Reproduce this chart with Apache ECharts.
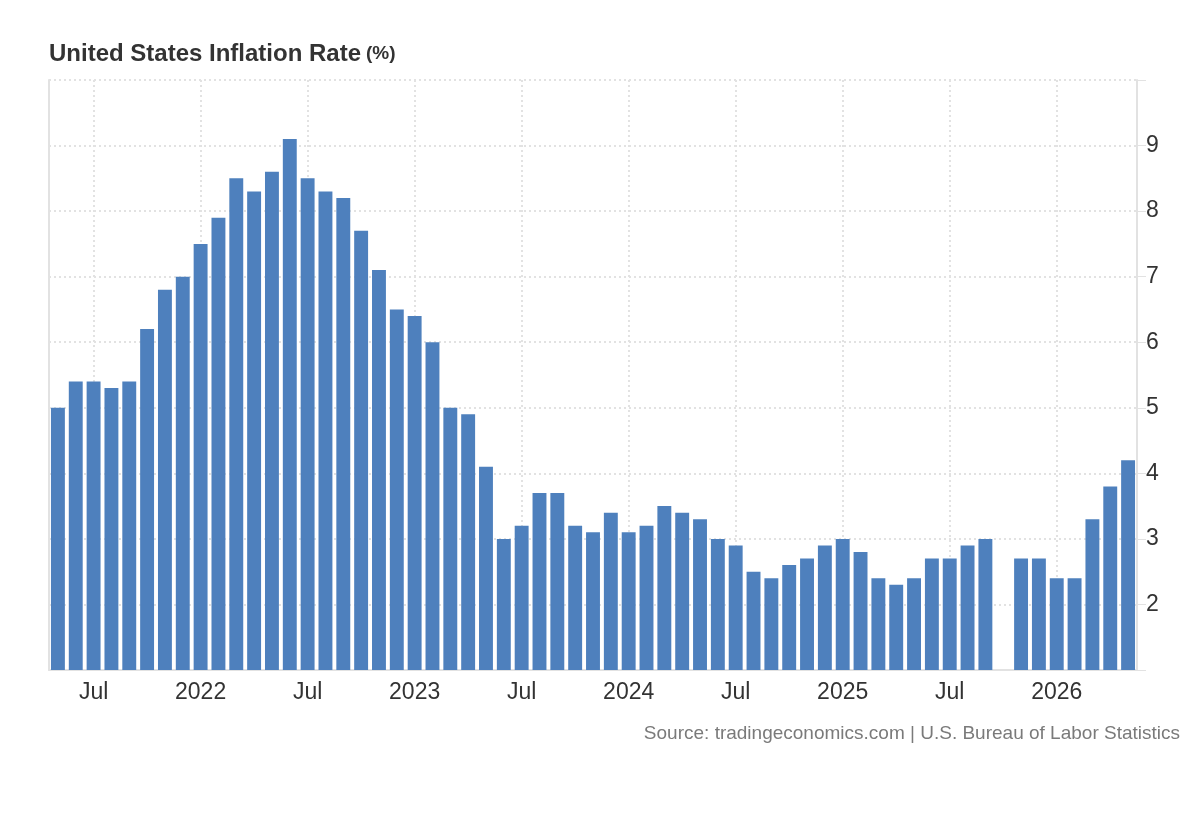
<html>
<head>
    <meta charset="utf-8">
    <script src="https://cdn.jsdelivr.net/npm/echarts@6/dist/echarts.min.js"></script>
    <style>
        html, body { margin: 0; padding: 0; background: #fff; }
    </style>
</head>
<body>
<div id="main" style="width: 1200px;height:820px;"></div>
</body>
<script type="text/javascript">
    // monthly categories, May 2021 .. May 2026
    var months = [
        'May 2021', 'Jun 2021', 'Jul 2021', 'Aug 2021', 'Sep 2021', 'Oct 2021', 'Nov 2021', 'Dec 2021',
        'Jan 2022', 'Feb 2022', 'Mar 2022', 'Apr 2022', 'May 2022', 'Jun 2022', 'Jul 2022', 'Aug 2022',
        'Sep 2022', 'Oct 2022', 'Nov 2022', 'Dec 2022',
        'Jan 2023', 'Feb 2023', 'Mar 2023', 'Apr 2023', 'May 2023', 'Jun 2023', 'Jul 2023', 'Aug 2023',
        'Sep 2023', 'Oct 2023', 'Nov 2023', 'Dec 2023',
        'Jan 2024', 'Feb 2024', 'Mar 2024', 'Apr 2024', 'May 2024', 'Jun 2024', 'Jul 2024', 'Aug 2024',
        'Sep 2024', 'Oct 2024', 'Nov 2024', 'Dec 2024',
        'Jan 2025', 'Feb 2025', 'Mar 2025', 'Apr 2025', 'May 2025', 'Jun 2025', 'Jul 2025', 'Aug 2025',
        'Sep 2025', 'Oct 2025', 'Nov 2025', 'Dec 2025',
        'Jan 2026', 'Feb 2026', 'Mar 2026', 'Apr 2026', 'May 2026'
    ];
    // inflation rate (%), null = no release
    var rate = [
        5.0, 5.4, 5.4, 5.3, 5.4, 6.2, 6.8, 7.0,
        7.5, 7.9, 8.5, 8.3, 8.6, 9.1, 8.5, 8.3,
        8.2, 7.7, 7.1, 6.5,
        6.4, 6.0, 5.0, 4.9, 4.1, 3.0, 3.2, 3.7,
        3.7, 3.2, 3.1, 3.4,
        3.1, 3.2, 3.5, 3.4, 3.3, 3.0, 2.9, 2.5,
        2.4, 2.6, 2.7, 2.9,
        3.0, 2.8, 2.4, 2.3, 2.4, 2.7, 2.7, 2.9,
        3.0, null, 2.7, 2.7,
        2.4, 2.4, 3.3, 3.8, 4.2
    ];
    var yTicks = [2, 3, 4, 5, 6, 7, 8, 9];

    var fontName = '"Liberation Sans", Arial, sans-serif';
    var gridColor = '#e2e2e2';

    function isMarked(idx) {
        var m = months[idx].split(' ')[0];
        return m === 'Jan' || m === 'Jul';
    }

    var myChart = echarts.init(document.getElementById('main'));

    var option = {
        animation: false,
        title: [{
            left: 44,
            top: 37,
            text: '{a|United States Inflation Rate} {b|(%)}',
            textStyle: {
                rich: {
                    a: { fontFamily: fontName, fontSize: 24, fontWeight: 'bold', color: '#333' },
                    b: { fontFamily: fontName, fontSize: 19, fontWeight: 'bold', color: '#333' }
                }
            }
        }, {
            right: 15,
            top: 719,
            text: 'Source: tradingeconomics.com | U.S. Bureau of Labor Statistics',
            textStyle: { fontFamily: fontName, fontSize: 19, fontWeight: 'normal', color: '#7a7a7a' }
        }],
        grid: {
            left: 49,
            right: 63,
            top: 80,
            bottom: 150,
            containLabel: false
        },
        xAxis: {
            type: 'category',
            data: months,
            axisLine: { lineStyle: { color: gridColor, width: 2 } },
            axisTick: { show: false },
            axisLabel: {
                interval: function (idx) { return isMarked(idx); },
                formatter: function (value) {
                    var p = value.split(' ');
                    return p[0] === 'Jan' ? p[1] : p[0];
                },
                fontFamily: fontName,
                fontSize: 23,
                color: '#333',
                margin: 11
            },
            splitLine: {
                show: true,
                alignWithLabel: true,
                interval: function (idx) { return isMarked(idx); },
                lineStyle: { color: gridColor, width: 2, type: [2, 3] }
            }
        },
        yAxis: [{
            type: 'value',
            position: 'right',
            min: 1,
            max: 10,
            interval: 1,
            axisLine: { show: true, lineStyle: { color: gridColor, width: 2 } },
            axisTick: { show: true, length: 9, lineStyle: { color: gridColor, width: 1 } },
            axisLabel: {
                formatter: function (v) { return yTicks.indexOf(v) >= 0 ? String(v) : ''; },
                fontFamily: fontName,
                fontSize: 23,
                color: '#333',
                margin: 9
            },
            splitLine: { show: true, lineStyle: { color: gridColor, width: 2, type: [2, 3] } }
        }, {
            type: 'value',
            position: 'left',
            min: 1,
            max: 10,
            interval: 1,
            axisLine: { show: true, lineStyle: { color: gridColor, width: 2 } },
            axisTick: { show: false },
            axisLabel: { show: false },
            splitLine: { show: false }
        }],
        series: [{
            name: 'Inflation Rate',
            type: 'bar',
            data: rate,
            barCategoryGap: '22%',
            itemStyle: { color: '#4e80bd' }
        }]
    };

    myChart.setOption(option);
</script>
</html>
